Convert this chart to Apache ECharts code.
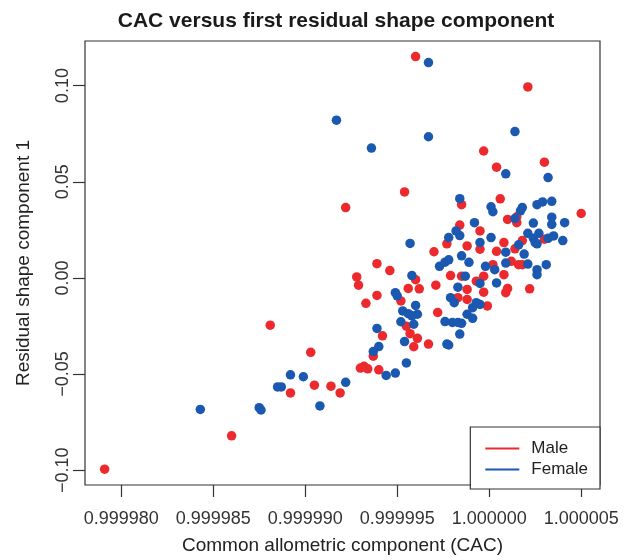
<!DOCTYPE html>
<html><head><meta charset="utf-8">
<script src="https://cdn.jsdelivr.net/npm/echarts@6/dist/echarts.min.js"></script>
<style>html,body{margin:0;padding:0;background:#fff}#c{width:624px;height:560px}</style>
</head><body><div id="c"></div>
<script>
const titleText = 'CAC versus first residual shape component';
const xName = 'Common allometric component (CAC)';
const yName = 'Residual shape component 1';
const seriesNames = ['Male', 'Female'];
const xTicks = [0.999980, 0.999985, 0.999990, 0.999995, 1.000000, 1.000005];
const yTicks = [-0.10, -0.05, 0.00, 0.05, 0.10];

const maleX = [0.9999791,0.9999860,0.9999881,0.9999903,0.9999892,0.9999905,0.9999914,0.9999919,0.9999930,0.9999932,
0.9999934,0.9999940,0.9999937,0.9999942,0.9999933,0.9999939,0.9999928,0.9999929,0.9999939,0.9999946,
0.9999922,0.9999954,0.9999960,1.0000021,0.9999997,1.0000030,1.0000004,0.9999985,1.0000006,1.0000050,
1.0000010,1.0000015,1.0000015,0.9999984,0.9999995,0.9999977,0.9999988,0.9999995,1.0000008,1.0000004,
1.0000018,1.0000014,1.0000030,0.9999970,1.0000002,1.0000012,1.0000016,1.0000018,1.0000008,0.9999997,
0.9999993,1.0000010,1.0000009,1.0000022,0.9999988,0.9999988,0.9999997,0.9999999,0.9999960,0.9999956,
0.9999962,0.9999952,0.9999955,0.9999957,0.9999961,0.9999959,0.9999967,0.9999971,0.9999972,0.9999979,
0.9999985,0.9999983];
const maleY = [-0.0995,-0.0821,-0.0246,-0.0387,-0.0598,-0.0558,-0.0563,-0.0598,-0.0469,-0.0460,
-0.0473,-0.0478,-0.0407,-0.0301,-0.0132,-0.0091,0.0005,-0.0038,0.0074,0.0038,
0.0366,0.0447,0.1151,0.0993,0.0660,0.0602,0.0576,0.0381,0.0411,0.0335,
0.0304,0.0318,0.0287,0.0275,0.0244,0.0177,0.0166,0.0149,0.0184,0.0138,
0.0194,0.0151,0.0201,0.0136,0.0069,0.0086,0.0069,0.0069,0.0017,0.0009,
-0.0017,-0.0055,-0.0077,-0.0057,-0.0060,-0.0112,-0.0074,-0.0146,-0.0009,-0.0055,
-0.0057,-0.0120,-0.0251,-0.0290,-0.0314,-0.0358,-0.0344,-0.0038,-0.0180,0.0012,
0.0009,-0.0103];

const femaleX = [0.9999917,0.9999967,0.9999936,0.9999967,1.0000014,1.0000009,1.0000032,0.9999984,1.0000001,1.0000002,
1.0000018,1.0000017,1.0000026,1.0000029,1.0000034,1.0000014,1.0000024,1.0000034,1.0000034,1.0000041,
0.9999992,0.9999995,1.0000001,1.0000009,1.0000016,1.0000019,1.0000021,1.0000024,1.0000027,1.0000025,
1.0000026,1.0000032,1.0000035,1.0000040,0.9999982,0.9999984,0.9999978,0.9999957,0.9999985,0.9999973,
0.9999976,0.9999978,0.9999958,0.9999949,0.9999950,0.9999960,0.9999953,0.9999956,0.9999961,0.9999958,
0.9999952,0.9999959,0.9999939,0.9999940,0.9999937,0.9999944,0.9999949,0.9999955,0.9999954,0.9999977,
0.9999978,0.9999984,0.9999976,0.9999980,0.9999983,0.9999985,0.9999988,0.9999991,0.9999993,0.9999995,
0.9999991,0.9999979,0.9999981,0.9999983,0.9999987,0.9999989,0.9999998,1.0000003,1.0000009,1.0000021,
1.0000004,0.9999995,1.0000026,1.0000026,1.0000031,0.9999922,0.9999899,0.9999892,0.9999885,0.9999887,
0.9999908,0.9999875,0.9999876,0.9999843];
const femaleY = [0.0820,0.1120,0.0675,0.0734,0.0761,0.0541,0.0522,0.0412,0.0370,0.0344,
0.0366,0.0349,0.0381,0.0395,0.0398,0.0309,0.0285,0.0316,0.0278,0.0287,
0.0287,0.0184,0.0210,0.0134,0.0172,0.0124,0.0232,0.0206,0.0232,0.0184,
0.0177,0.0206,0.0218,0.0194,0.0244,0.0220,0.0210,0.0179,0.0115,0.0060,
0.0082,0.0094,0.0012,-0.0077,-0.0093,-0.0143,-0.0172,-0.0186,-0.0189,-0.0197,
-0.0228,-0.0241,-0.0263,-0.0357,-0.0383,-0.0507,-0.0495,-0.0442,-0.0331,-0.0344,
-0.0349,-0.0292,-0.0227,-0.0232,-0.0232,-0.0236,-0.0189,-0.0210,-0.0129,-0.0138,
-0.0155,-0.0103,-0.0129,-0.0048,0.0009,0.0081,0.0060,0.0043,0.0077,0.0072,
-0.0026,-0.0029,0.0043,0.0017,0.0069,-0.0543,-0.0514,-0.0504,-0.0567,-0.0567,
-0.0666,-0.0675,-0.0687,-0.0684];

const FONT = '"Liberation Sans", Arial, Helvetica, sans-serif';
const RED = '#EC2A2E', BLUE = '#1B58B0';
const pair = (xs, ys) => xs.map((x, i) => [x, ys[i]]);

const chart = echarts.init(document.getElementById('c'), null, {renderer: 'canvas'});
chart.setOption({
  animation: false,
  backgroundColor: '#fff',
  textStyle: {fontFamily: FONT},
  title: {
    text: titleText, left: 331, top: 6, textAlign: 'center',
    textStyle: {fontFamily: FONT, fontSize: 21, fontWeight: 'bold', color: '#1a1a1a'}
  },
  grid: {left: 85, right: 24, top: 41, bottom: 71, show: true, borderColor: '#333', borderWidth: 1.2, backgroundColor: 'transparent'},
  xAxis: {
    type: 'value', min: 0.999978033, max: 1.000006022,
    name: xName, nameLocation: 'middle', nameGap: 51,
    nameTextStyle: {fontFamily: FONT, fontSize: 19, color: '#222'},
    axisLine: {show: false, onZero: false},
    splitLine: {show: false},
    axisTick: {show: true, length: 12, customValues: xTicks, lineStyle: {color: '#333', width: 1.2}},
    axisLabel: {customValues: xTicks, margin: 25, fontFamily: FONT, fontSize: 18, color: '#333',
      formatter: v => Number(v).toFixed(6)}
  },
  yAxis: {
    type: 'value', min: -0.1077, max: 0.1232,
    name: yName, nameLocation: 'middle', nameGap: 52, nameRotate: 90,
    nameTextStyle: {fontFamily: FONT, fontSize: 19, color: '#222'},
    axisLine: {show: false, onZero: false},
    splitLine: {show: false},
    axisTick: {show: true, length: 12, customValues: yTicks, lineStyle: {color: '#333', width: 1.2}},
    axisLabel: {customValues: yTicks, rotate: 90, margin: 13, fontFamily: FONT, fontSize: 18, color: '#333',
      formatter: v => { const s = Math.abs(v).toFixed(2); return v < -1e-9 ? '\u2212' + s : s; }}
  },
  legend: {
    data: seriesNames, orient: 'vertical', right: 24, bottom: 71,
    icon: 'rect', itemWidth: 34, itemHeight: 2, itemGap: 4,
    padding: [13, 12, 11, 15],
    borderColor: '#333', borderWidth: 1.2, backgroundColor: '#fff',
    textStyle: {fontFamily: FONT, fontSize: 17, color: '#222', padding: [0, 0, 0, 7]}
  },
  series: [
    {name: seriesNames[0], type: 'scatter', data: pair(maleX, maleY), symbol: 'circle', symbolSize: 9.5,
      itemStyle: {color: RED, opacity: 1}, z: 2},
    {name: seriesNames[1], type: 'scatter', data: pair(femaleX, femaleY), symbol: 'circle', symbolSize: 9.5,
      itemStyle: {color: BLUE, opacity: 1}, z: 3}
  ]
});
</script></body></html>
